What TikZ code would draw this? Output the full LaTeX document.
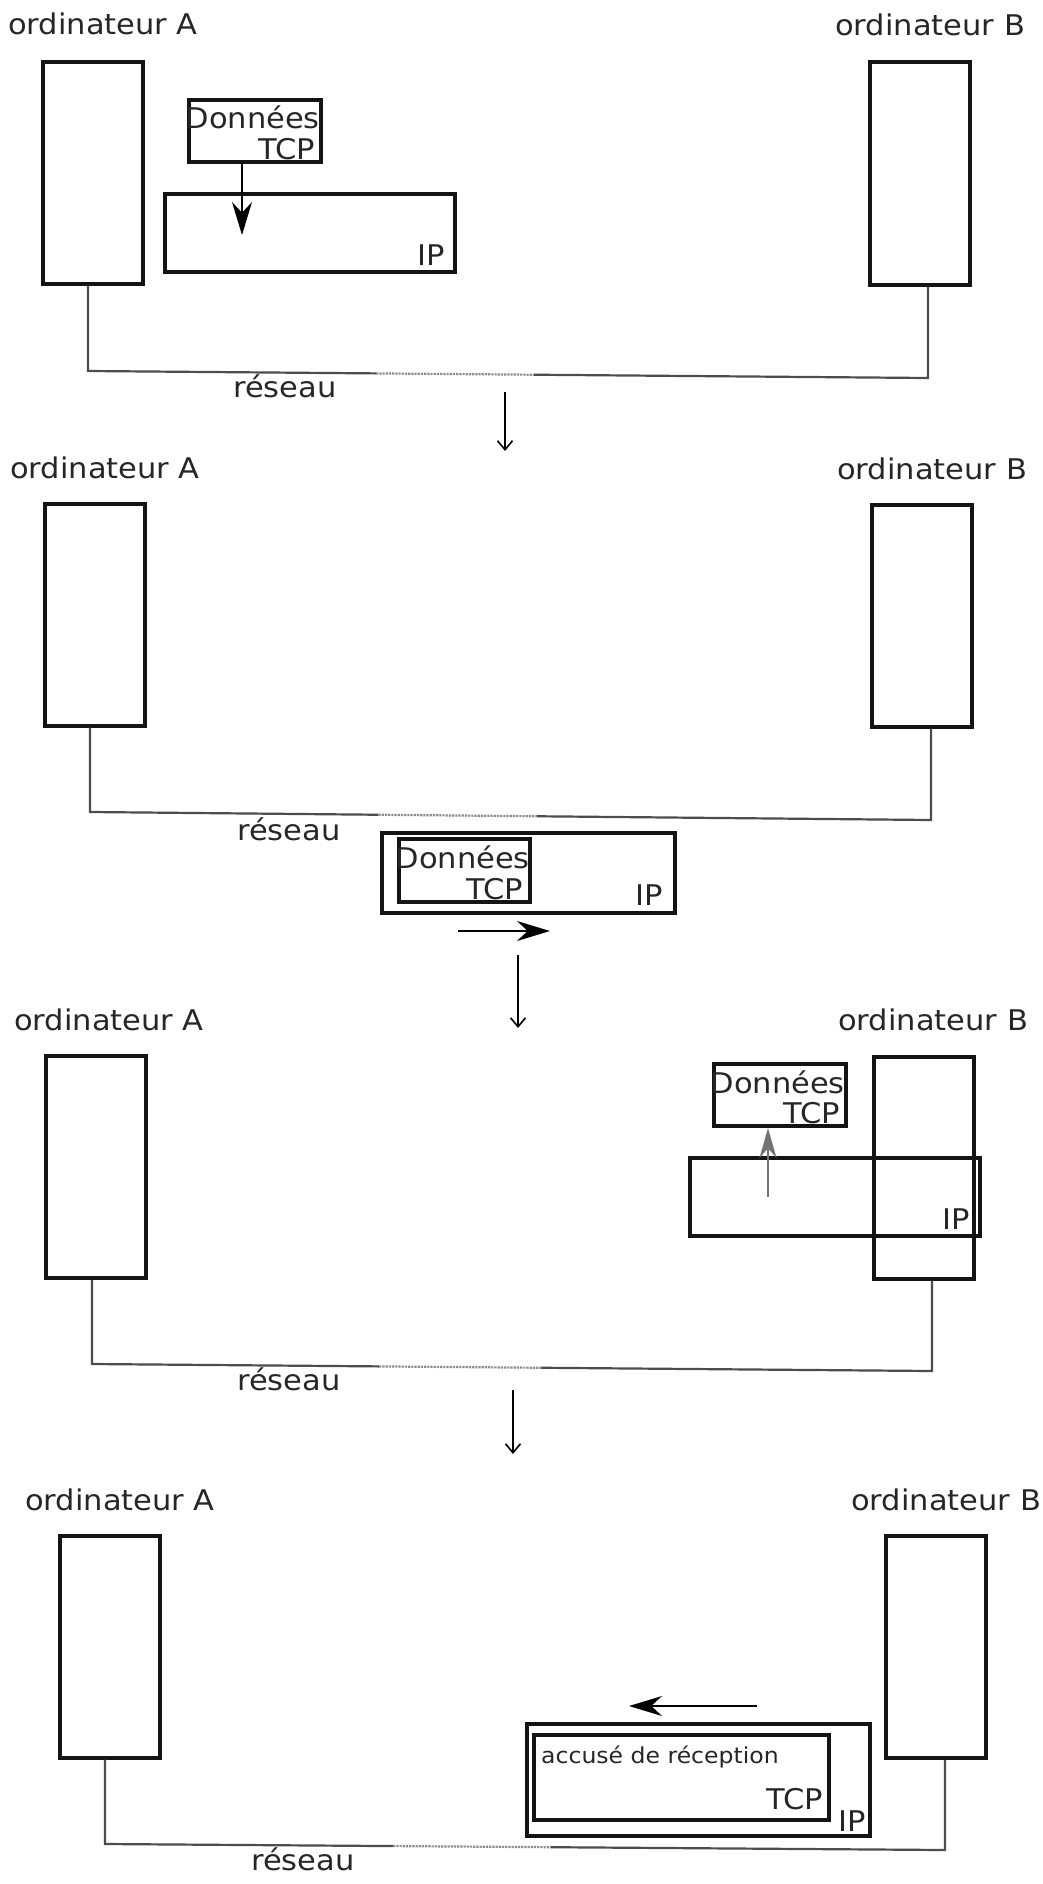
\documentclass[tikz,border=0pt]{standalone}
\usepackage{fontspec}
\setmainfont{DejaVu Sans}[FakeStretch=1.07]
\usetikzlibrary{calc,positioning,arrows.meta}

\begin{document}
\begin{tikzpicture}[x=1pt, y=-1pt,
    txt/.style={inner sep=0pt, text=black!85, font=\fontsize{28.5}{31}\selectfont},
    pc/.style={draw=black!92, line width=4pt, rectangle, minimum width=100pt, minimum height=222pt},
    pkt/.style={draw=black!92, line width=4pt, rectangle, inner sep=0pt},
    tcpbox/.style={pkt, minimum width=132pt, minimum height=62pt},
    ipbox/.style={pkt, minimum width=290pt, minimum height=78pt},
    net/.style={draw=black!70, line width=2.2pt},
    fade/.style={draw=black!45, line width=2.2pt, densely dotted},
    move/.style={-{Stealth[length=33pt,width=20pt]}, line width=1.5pt},
    nextstep/.style={-{Straight Barb[length=9pt,width=15pt]}, line width=1.6pt}]
    \useasboundingbox (0,0) rectangle (1042,1884);

    % etape 1 : encapsulation chez A
    \node[txt, anchor=base west] (lblA1) at (8,35) {ordinateur A};
    \node[txt, anchor=base west] (lblB1) at (835,36) {ordinateur B};
    \node[pc] (A1) at (93,173) {};
    \node[pc] (B1) at (920,173.5) {};
    \node[tcpbox] (tcp1) at (255,131) {};
    \node[ipbox] (ip1) at (310,233) {};
    \node[txt, anchor=base east] (don1) at (320,128) {Données};
    \node[txt, anchor=base east] (tcpt1) at (315,159) {TCP};
    \node[txt, anchor=base east] (ipt1) at (445,265) {IP};
    \coordinate (a1) at (242,235);
    \draw[move] (tcp1.south -| a1) -- (a1);
    \coordinate (nA1) at (88,371);
    \coordinate (nB1) at (928,378);
    \draw[net] (A1.south -| nA1) -- (nA1) -- ($(nA1)!.343!(nB1)$);
    \draw[fade] ($(nA1)!.343!(nB1)$) -- ($(nA1)!.531!(nB1)$);
    \draw[net] ($(nA1)!.531!(nB1)$) -- (nB1) -- (B1.south -| nB1);
    \node[txt, anchor=base west] (res1) at (233,397) {réseau};
    \coordinate (s1a) at (505,392);
    \coordinate (s1b) at (505,451);
    \draw[nextstep] (s1a) -- (s1b);

    % etape 2 : le paquet sur le reseau
    \node[txt, anchor=base west] (lblA2) at (10,478) {ordinateur A};
    \node[txt, anchor=base west] (lblB2) at (837,479) {ordinateur B};
    \node[pc] (A2) at (95,614.5) {};
    \node[pc] (B2) at (921.5,615.5) {};
    \coordinate (nA2) at (90,812);
    \coordinate (nB2) at (931,820);
    \draw[net] (A2.south -| nA2) -- (nA2) -- ($(nA2)!.343!(nB2)$);
    \draw[fade] ($(nA2)!.343!(nB2)$) -- ($(nA2)!.531!(nB2)$);
    \draw[net] ($(nA2)!.531!(nB2)$) -- (nB2) -- (B2.south -| nB2);
    \node[txt, anchor=base west] (res2) at (237,840) {réseau};
    \node[ipbox, minimum width=293pt, minimum height=80pt] (ip2) at (528.5,873) {};
    \node[tcpbox, minimum width=131pt, minimum height=63pt] (tcp2) at (464.5,870.5) {};
    \node[txt, anchor=base east] (don2) at (530,868) {Données};
    \node[txt, anchor=base east] (tcpt2) at (523,899) {TCP};
    \node[txt, anchor=base east] (ipt2) at (663,905) {IP};
    \coordinate (m2a) at (458,931);
    \coordinate (m2b) at (550,931);
    \draw[move] (m2a) -- (m2b);
    \coordinate (s2a) at (518,955);
    \coordinate (s2b) at (518,1028);
    \draw[nextstep] (s2a) -- (s2b);

    % etape 3 : decapsulation chez B
    \node[txt, anchor=base west] (lblA3) at (14,1030) {ordinateur A};
    \node[txt, anchor=base west] (lblB3) at (838,1030) {ordinateur B};
    \node[pc] (A3) at (96,1167) {};
    \node[pc] (B3) at (923.5,1167.5) {};
    \node[ipbox] (ip3) at (835,1197) {};
    \node[tcpbox] (tcp3) at (780,1095) {};
    \node[txt, anchor=base east] (don3) at (845,1093) {Données};
    \node[txt, anchor=base east] (tcpt3) at (840,1123) {TCP};
    \node[txt, anchor=base east] (ipt3) at (970,1229) {IP};
    \coordinate (a3) at (768,1197);
    \draw[-{Stealth[length=30pt,width=17pt]}, line width=1.5pt, draw=black!55] (a3) -- (tcp3.south -| a3);
    \coordinate (nA3) at (92,1364);
    \coordinate (nB3) at (932,1371);
    \draw[net] (A3.south -| nA3) -- (nA3) -- ($(nA3)!.342!(nB3)$);
    \draw[fade] ($(nA3)!.342!(nB3)$) -- ($(nA3)!.535!(nB3)$);
    \draw[net] ($(nA3)!.535!(nB3)$) -- (nB3) -- (B3.south -| nB3);
    \node[txt, anchor=base west] (res3) at (237,1390) {réseau};
    \coordinate (s3a) at (513,1390);
    \coordinate (s3b) at (513,1454);
    \draw[nextstep] (s3a) -- (s3b);

    % etape 4 : accuse de reception vers A
    \node[txt, anchor=base west] (lblA4) at (25,1510) {ordinateur A};
    \node[txt, anchor=base west] (lblB4) at (851,1510) {ordinateur B};
    \node[pc] (A4) at (110,1646.5) {};
    \node[pc] (B4) at (936,1647) {};
    \node[ipbox, minimum width=343pt, minimum height=112pt] (ip4) at (698.5,1780) {};
    \node[tcpbox, minimum width=295pt, minimum height=85pt] (tcp4) at (681.5,1777.5) {};
    \node[txt, anchor=base west, font=\fontsize{22}{26}\selectfont] (ack) at (541,1763) {accusé de réception};
    \node[txt, anchor=base east] (tcpt4) at (823,1809) {TCP};
    \node[txt, anchor=base east] (ipt4) at (866,1831) {IP};
    \coordinate (m4a) at (757,1706);
    \coordinate (m4b) at (629,1706);
    \draw[move] (m4a) -- (m4b);
    \coordinate (nA4) at (105,1844);
    \coordinate (nB4) at (945,1850);
    \draw[net] (A4.south -| nA4) -- (nA4) -- ($(nA4)!.343!(nB4)$);
    \draw[fade] ($(nA4)!.343!(nB4)$) -- ($(nA4)!.531!(nB4)$);
    \draw[net] ($(nA4)!.531!(nB4)$) -- (nB4) -- (B4.south -| nB4);
    \node[txt, anchor=base west] (res4) at (251,1870) {réseau};
\end{tikzpicture}
\end{document}
